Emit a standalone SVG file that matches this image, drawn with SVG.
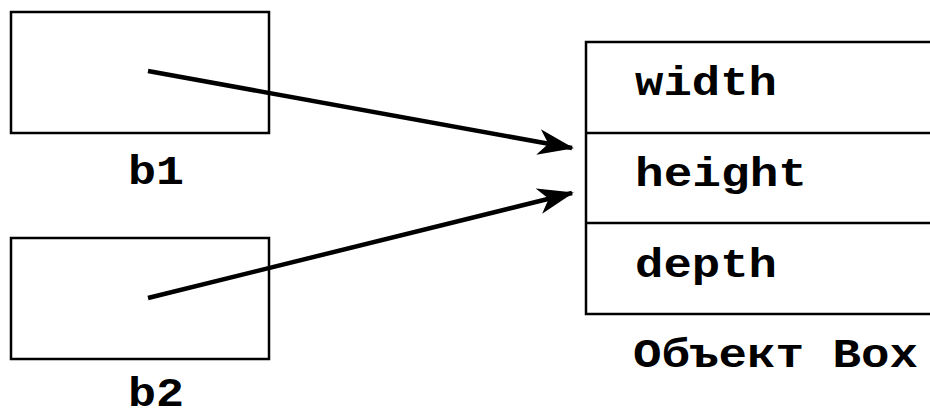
<svg xmlns="http://www.w3.org/2000/svg" width="930" height="415" viewBox="0 0 930 415">
  <style>
    .box { fill: #fff; stroke: #000; stroke-width: 2.5; }
    .lbl { font-family: "Liberation Mono", "Courier New", monospace; font-weight: bold; font-size: 40px; fill: #000; }
    .link { stroke: #000; stroke-width: 4.5; fill: none; marker-end: url(#arrow); }
  </style>
  <defs>
    <marker id="arrow" markerUnits="userSpaceOnUse" viewBox="0 0 36 26" refX="34" refY="13" markerWidth="36" markerHeight="26" orient="auto">
      <path d="M0,0 L36,13 L0,26 L10,13 Z" fill="#000"/>
    </marker>
  </defs>

  <!-- reference variable b1 -->
  <g id="b1">
    <rect class="box" x="11" y="12" width="258" height="121"/>
    <text class="lbl" x="128" y="184" textLength="56" lengthAdjust="spacingAndGlyphs">b1</text>
  </g>

  <!-- reference variable b2 -->
  <g id="b2">
    <rect class="box" x="11" y="238" width="258" height="121"/>
    <text class="lbl" x="128" y="406" textLength="56" lengthAdjust="spacingAndGlyphs">b2</text>
  </g>

  <!-- the Box object with its three fields -->
  <g id="box-object">
    <rect class="box" x="586" y="42" width="360" height="272"/>
    <line x1="586" y1="133" x2="930" y2="133" stroke="#000" stroke-width="2.5"/>
    <line x1="586" y1="223" x2="930" y2="223" stroke="#000" stroke-width="2.5"/>
    <text class="lbl" x="635" y="95" textLength="142" lengthAdjust="spacingAndGlyphs">width</text>
    <text class="lbl" x="635" y="186" textLength="172" lengthAdjust="spacingAndGlyphs">height</text>
    <text class="lbl" x="635" y="277" textLength="142" lengthAdjust="spacingAndGlyphs">depth</text>
    <text class="lbl" x="633" y="367" textLength="285" lengthAdjust="spacingAndGlyphs">Объект Box</text>
  </g>

  <!-- both references point to the same object -->
  <g id="connectors">
    <line class="link" x1="148" y1="71" x2="572" y2="148"/>
    <line class="link" x1="148" y1="298" x2="572" y2="193"/>
  </g>
</svg>
